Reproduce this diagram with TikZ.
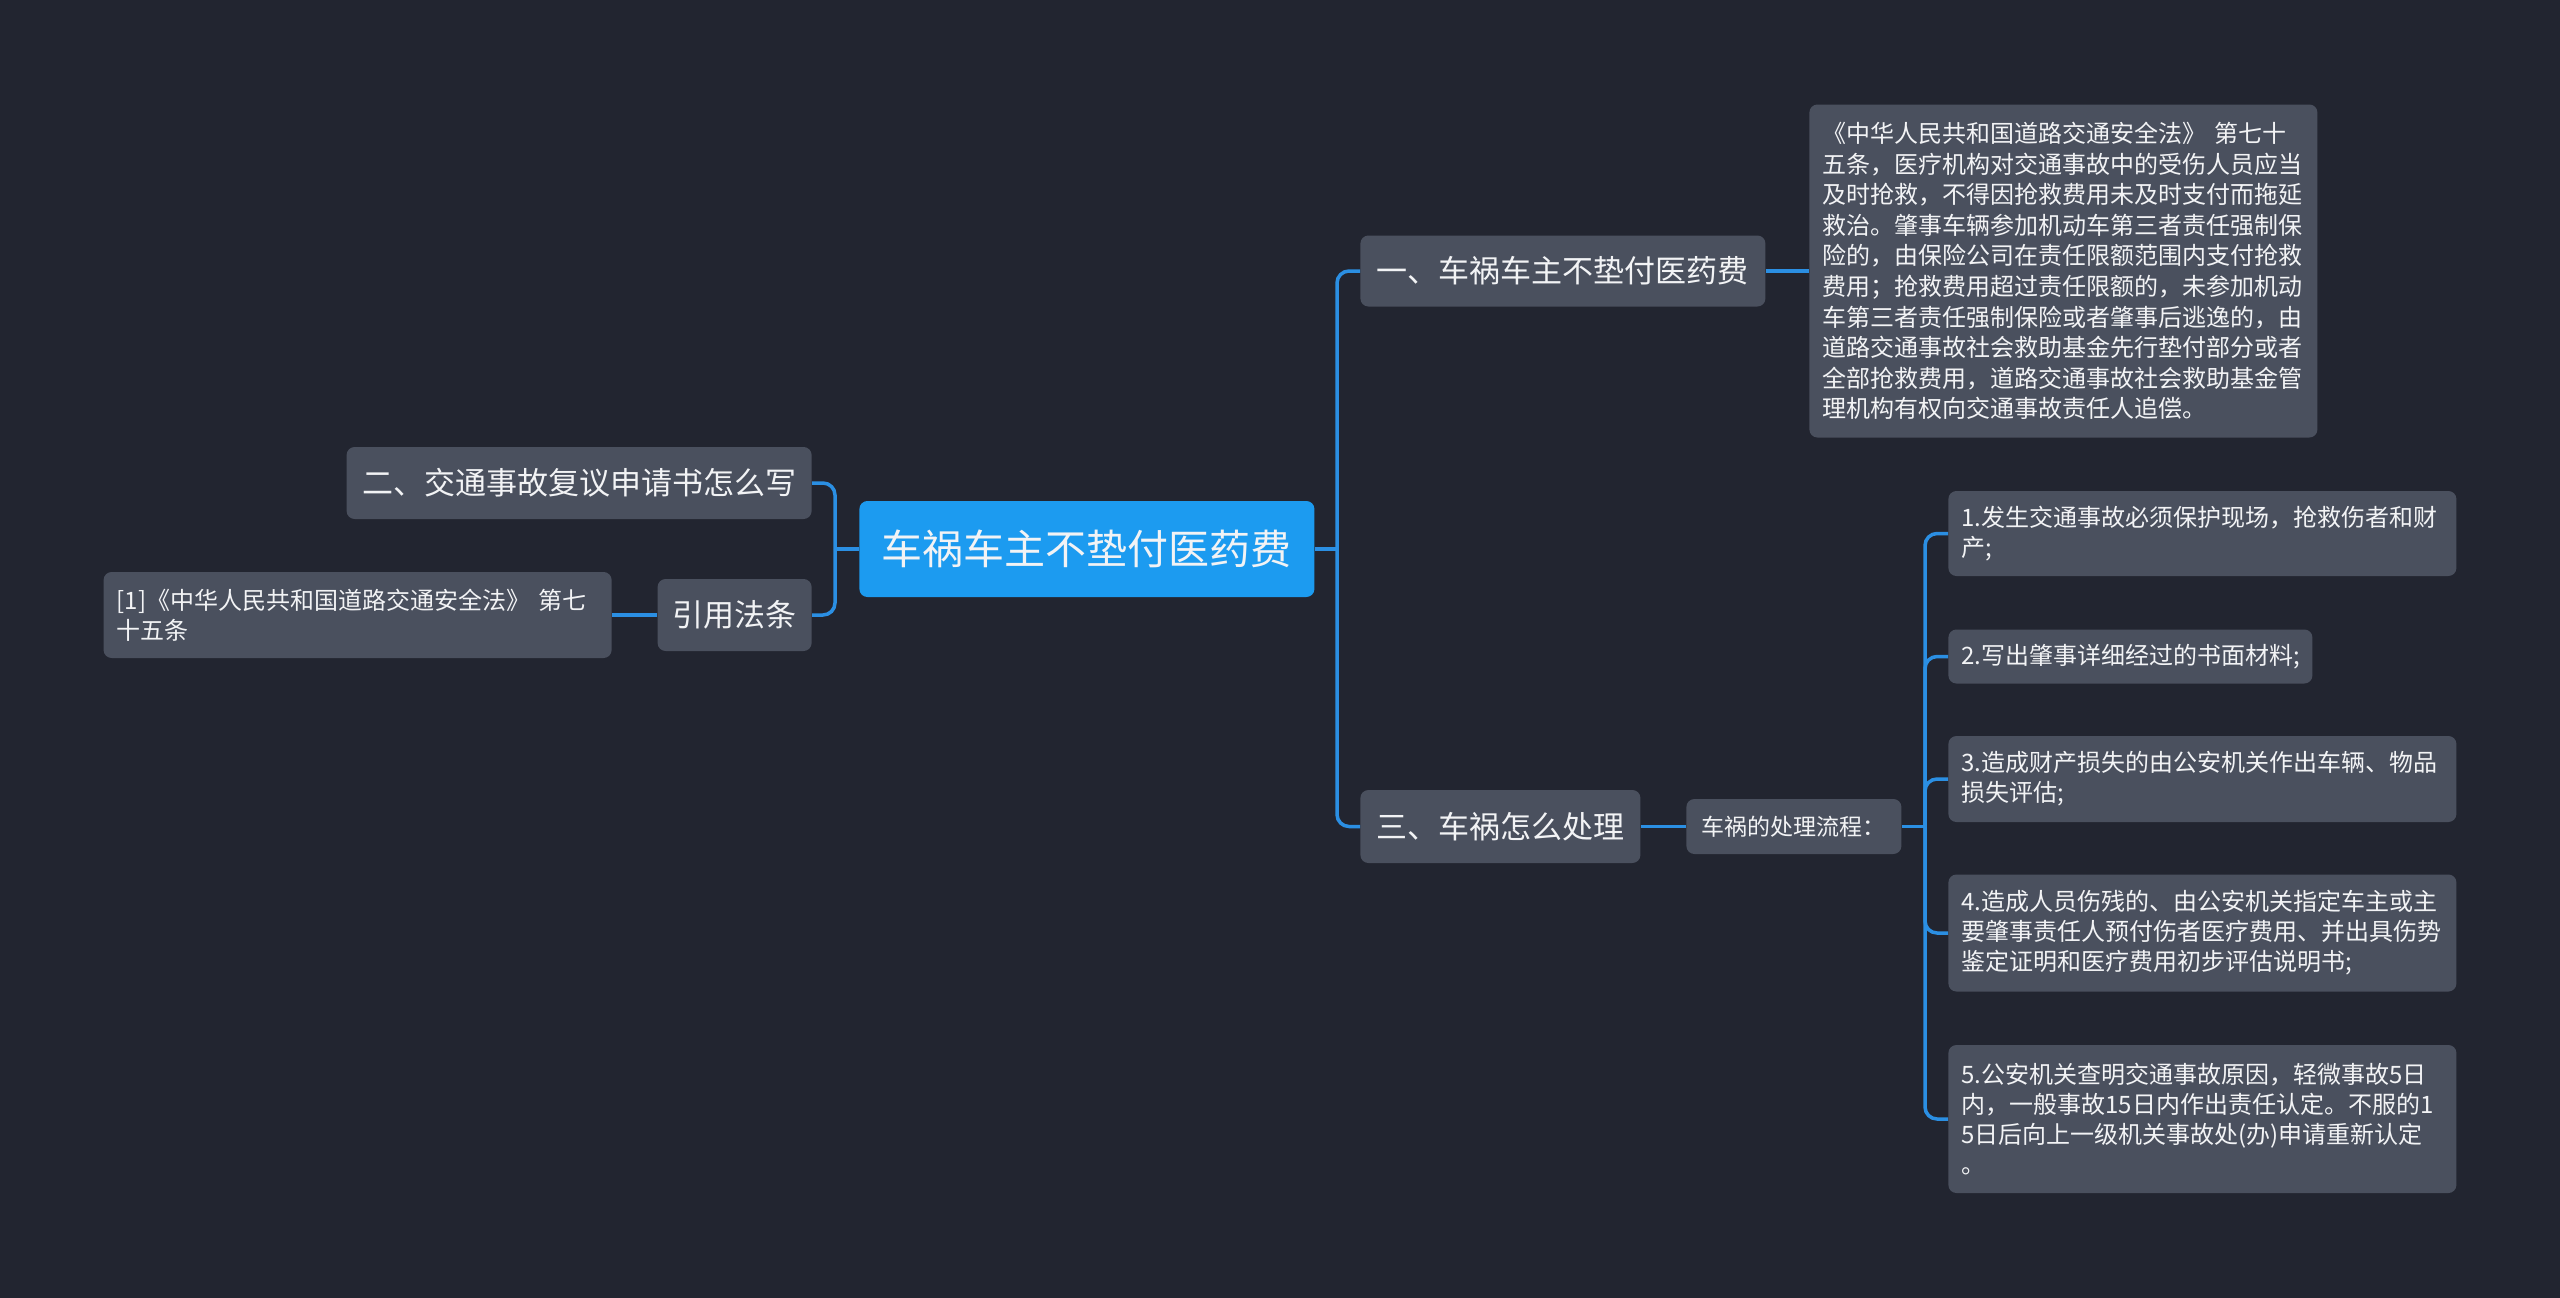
\documentclass[tikz,border=0pt]{standalone}
\usepackage{fontspec}
\setmainfont{Noto Sans CJK SC}
\definecolor{bgdark}{HTML}{222530}
\definecolor{boxgray}{HTML}{4A505E}
\definecolor{rootblue}{HTML}{1C9BF0}
\definecolor{linkblue}{HTML}{2B8FE3}
\definecolor{txtwhite}{HTML}{F2F3F5}

\begin{document}
\begin{tikzpicture}[x=0.5pt, y=-0.5pt,
  box/.style={rectangle, rounded corners=4pt, fill=boxgray, text=txtwhite, inner xsep=6.5pt, inner ysep=0pt},
  topic/.style={box, font=\fontsize{15.5}{18}\selectfont},
  leaf/.style={box, align=left, text width=#1, font=\fontsize{12}{15}\selectfont},
  leaf/.default=241pt,
  link/.style={linkblue, line width=1.75pt, rounded corners=6pt}]
\useasboundingbox (0,0) rectangle (2560,1297);
\fill[bgdark] (-4,-4) rectangle (2564,1301);
\node[box, fill=rootblue, font=\fontsize{20.5}{24}\selectfont, minimum width=227.5pt, minimum height=48pt, anchor=west] (root) at (859,549) {车祸车主不垫付医药费};
\node[topic, minimum width=202.5pt, minimum height=35.5pt, anchor=west] (fee) at (1360,271) {一、车祸车主不垫付医药费};
\node[leaf, font=\fontsize{12}{15.3}\selectfont, minimum height=166.5pt, anchor=west] (law) at (1809,271) {《中华人民共和国道路交通安全法》 第七十\\五条，医疗机构对交通事故中的受伤人员应当\\及时抢救，不得因抢救费用未及时支付而拖延\\救治。肇事车辆参加机动车第三者责任强制保\\险的，由保险公司在责任限额范围内支付抢救\\费用；抢救费用超过责任限额的，未参加机动\\车第三者责任强制保险或者肇事后逃逸的，由\\道路交通事故社会救助基金先行垫付部分或者\\全部抢救费用，道路交通事故社会救助基金管\\理机构有权向交通事故责任人追偿。};
\node[topic, minimum width=140pt, minimum height=36.5pt, anchor=west] (handle) at (1360,826.5) {三、车祸怎么处理};
\node[box, font=\fontsize{11.5}{14}\selectfont, minimum width=107.5pt, minimum height=27.5pt, anchor=west] (flow) at (1686,826.5) {车祸的处理流程：};
\node[leaf, minimum height=42.5pt, anchor=west] (step1) at (1948,533.5) {1.发生交通事故必须保护现场，抢救伤者和财\\产;};
\node[leaf=169pt, minimum height=27pt, anchor=west] (step2) at (1948,656.5) {2.写出肇事详细经过的书面材料;};
\node[leaf, minimum height=43pt, anchor=west] (step3) at (1948,779) {3.造成财产损失的由公安机关作出车辆、物品\\损失评估;};
\node[leaf, minimum height=58.5pt, anchor=west] (step4) at (1948,933) {4.造成人员伤残的、由公安机关指定车主或主\\要肇事责任人预付伤者医疗费用、并出具伤势\\鉴定证明和医疗费用初步评估说明书;};
\node[leaf, minimum height=74pt, anchor=west] (step5) at (1948,1119) {5.公安机关查明交通事故原因，轻微事故5日\\内，一般事故15日内作出责任认定。不服的1\\5日后向上一级机关事故处(办)申请重新认定\\。};
\node[topic, minimum width=232.5pt, minimum height=36pt, anchor=east] (review) at (812,483) {二、交通事故复议申请书怎么写};
\node[topic, minimum width=77pt, minimum height=36pt, anchor=east] (cite) at (812,615) {引用法条};
\node[leaf, minimum height=43pt, anchor=east] (ref) at (612,615) {[1]《中华人民共和国道路交通安全法》 第七\\十五条};
\coordinate (rtrunk) at (1337,549);
\coordinate (ltrunk) at (835,549);
\coordinate (ftrunk) at (1925,826.5);
\draw[link] (root.east) -- (rtrunk);
\draw[link] (rtrunk) |- (fee.west);
\draw[link] (rtrunk) |- (handle.west);
\draw[link] (fee.east) -- (law.west);
\draw[link] (handle.east) -- (flow.west);
\draw[link] (flow.east) -- (ftrunk);
\draw[link] (ftrunk) |- (step1.west);
\draw[link] (ftrunk) |- (step2.west);
\draw[link] (ftrunk) |- (step3.west);
\draw[link] (ftrunk) |- (step4.west);
\draw[link] (ftrunk) |- (step5.west);
\draw[link] (root.west) -- (ltrunk);
\draw[link] (ltrunk) |- (review.east);
\draw[link] (ltrunk) |- (cite.east);
\draw[link] (cite.west) -- (ref.east);
\end{tikzpicture}
\end{document}
